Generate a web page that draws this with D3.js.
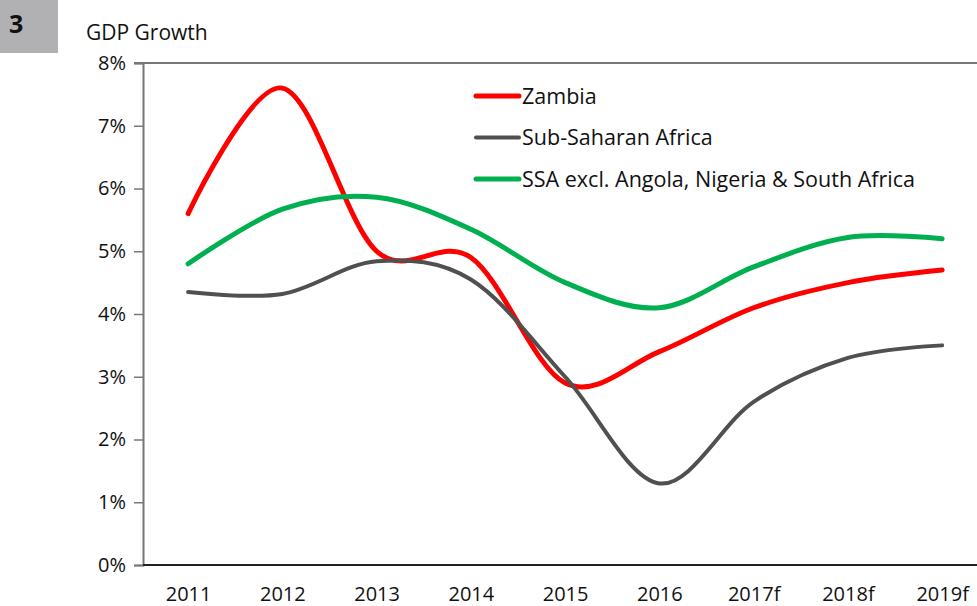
<!DOCTYPE html>
<meta charset="utf-8">
<style>
    body { margin: 0; background: #fff; }
    svg text { font-family: "Open Sans", "DejaVu Sans", sans-serif; fill: #111; }
</style>
<svg width="977" height="606"></svg>
<script src="https://cdn.jsdelivr.net/npm/d3@7"></script>
<script>
    var years = ["2011", "2012", "2013", "2014", "2015", "2016", "2017f", "2018f", "2019f"];
    var zambia = [5.6, 7.6, 5.0, 4.9, 2.9, 3.4, 4.1, 4.5, 4.7];
    var ssa = [4.35, 4.32, 4.84, 4.55, 3.0, 1.3, 2.6, 3.3, 3.5];
    var ssaExcl = [4.8, 5.67, 5.86, 5.35, 4.5, 4.1, 4.75, 5.22, 5.2];
    var yTicks = [0, 1, 2, 3, 4, 5, 6, 7, 8];

    var series = [
        {name: "Zambia", values: zambia, color: "#ff0000", width: 5},
        {name: "Sub-Saharan Africa", values: ssa, color: "#505050", width: 4},
        {name: "SSA excl. Angola, Nigeria & South Africa", values: ssaExcl, color: "#00b050", width: 5}
    ];

    var svg = d3.select("svg");
    var plotLeft = 143, plotTop = 63, plotBottom = 565;

    var x = d3.scalePoint()
            .domain(years)
            .range([141, 141 + 9 * 94.25])
            .padding(0.5);

    var y = d3.scaleLinear()
            .domain([0, 8])
            .range([plotBottom, plotTop]);

    // badge + title
    svg.append("rect").attr("x", 0).attr("y", 0).attr("width", 58).attr("height", 53).attr("fill", "#b1b1b4");
    svg.append("text").attr("x", 9).attr("y", 33).style("font-size", "25px").style("font-weight", "bold").text("3");
    svg.append("text").attr("x", 86).attr("y", 40).style("font-size", "21px").text("GDP Growth");

    // top frame line
    svg.append("line")
            .attr("x1", 134).attr("x2", 977)
            .attr("y1", plotTop).attr("y2", plotTop)
            .attr("stroke", "#777").attr("stroke-width", 2);

    // y axis
    var yAxis = svg.append("g")
            .attr("transform", "translate(" + plotLeft + ",0)")
            .call(d3.axisLeft(y).tickValues(yTicks).tickSize(9).tickPadding(8)
                    .tickFormat(function (d) { return d + "%"; }));
    yAxis.select(".domain").attr("stroke", "#777").attr("stroke-width", 2);
    yAxis.selectAll(".tick line").attr("stroke", "#777").attr("stroke-width", 1.5);
    yAxis.selectAll("text").style("font-size", "20px").attr("fill", "#111")
            .style("font-family", "'Open Sans', sans-serif");

    // x axis
    var xAxis = svg.append("g")
            .attr("transform", "translate(0," + plotBottom + ")")
            .call(d3.axisBottom(x).tickSize(0).tickPadding(22));
    xAxis.select(".domain").attr("d", "M" + plotLeft + ",0H977").attr("stroke", "#222").attr("stroke-width", 2);
    xAxis.selectAll("text").style("font-size", "20px").attr("fill", "#111")
            .style("font-family", "'Open Sans', sans-serif");

    // lines
    var line = d3.line()
            .x(function (d, i) { return x(years[i]); })
            .y(function (d) { return y(d); })
            .curve(d3.curveCardinal.tension(0));

    svg.append("g").selectAll("path")
            .data(series)
            .enter().append("path")
            .attr("d", function (s) { return line(s.values); })
            .attr("fill", "none")
            .attr("stroke", function (s) { return s.color; })
            .attr("stroke-width", function (s) { return s.width; })
            .attr("stroke-linecap", "round")
            .attr("stroke-linejoin", "round");

    // legend
    var legend = svg.append("g").selectAll("g")
            .data(series)
            .enter().append("g")
            .attr("transform", function (s, i) { return "translate(474," + (96 + i * 41.5) + ")"; });
    legend.append("line")
            .attr("x1", 2).attr("x2", 45)
            .attr("stroke", function (s) { return s.color; })
            .attr("stroke-width", function (s) { return s.width; })
            .attr("stroke-linecap", "round");
    legend.append("text")
            .attr("x", 48).attr("y", 7.5)
            .style("font-size", "21.5px")
            .text(function (s) { return s.name; });
</script>
